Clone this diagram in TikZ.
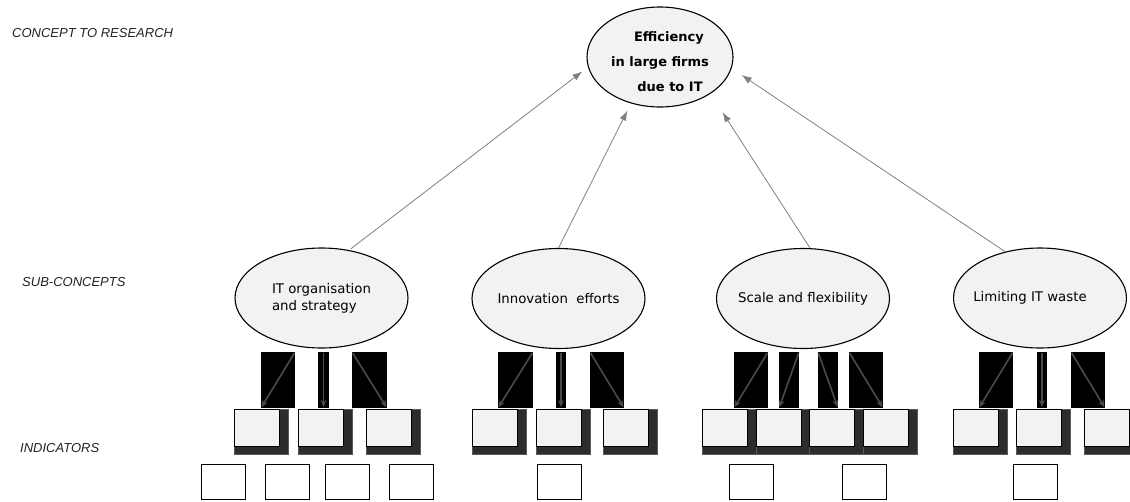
\documentclass[tikz,border=0pt]{standalone}
\usepackage{fontspec}
\setmainfont{DejaVu Sans}
\newfontfamily\labfont{Liberation Sans}
\usetikzlibrary{arrows.meta,shapes.geometric}
\definecolor{ellfill}{HTML}{F2F2F2}
\definecolor{shad}{HTML}{2C2C2C}
\definecolor{shadedge}{HTML}{5A5A5A}
\definecolor{upc}{HTML}{808080}
\definecolor{dnc}{HTML}{4A4A4A}
\definecolor{labc}{HTML}{222222}
\newcommand\indbox[2]{%
  \fill[shad, draw=shadedge, line width=1pt] (#2,409) rectangle ++(54,45);
  \node[indc] (#1) at (#2,409) {};}
\newcommand\botbox[2]{\node[botc] (#1) at (#2,464) {};}
\newcommand\blkbox[3]{\node[blk, minimum width=#3pt] (#1) at (#2,380) {};}
\begin{document}
\begin{tikzpicture}[x=1pt,y=-1pt,
 lvl/.style={font=\labfont\itshape\fontsize{13}{15}\selectfont, text=labc, anchor=west, inner sep=0pt},
 sub/.style={ellipse, draw=black, line width=1.1pt, fill=ellfill, minimum width=173pt, minimum height=100pt, inner xsep=-15pt, inner ysep=0pt, font=\fontsize{13.3}{17}\selectfont},
 topc/.style={ellipse, draw=black, line width=1.1pt, fill=ellfill, minimum width=146pt, minimum height=100pt, inner sep=-5pt, align=center, font=\bfseries\fontsize{13}{25}\selectfont},
 up/.style={draw=upc, line width=0.8pt, -{Latex[length=10pt,width=7pt]}},
 blk/.style={fill=black, draw=none, inner sep=0pt, outer sep=0pt, minimum height=56pt},
 dn/.style={draw=dnc, line width=1.6pt, -{Stealth[length=7pt,width=6pt]}, shorten <=1pt, shorten >=1pt},
 indc/.style={draw=black, line width=1pt, fill=ellfill, minimum width=45pt, minimum height=37pt, inner sep=0pt, anchor=north west},
 botc/.style={draw=black, line width=1.1pt, fill=white, minimum width=44pt, minimum height=35pt, inner sep=0pt, anchor=north west}
]
\useasboundingbox (0,0) rectangle (1130,501);
\clip (0,0) rectangle (1130,501);

% level labels
\node[lvl] (l1) at (12,33.5) {CONCEPT TO RESEARCH};
\node[lvl] (l2) at (22,282) {SUB-CONCEPTS};
\node[lvl] (l3) at (20,448) {INDICATORS};

% top concept
\node[topc] (top) at (660,57) {\rule{0pt}{20pt}\hspace*{18pt}Efficiency\\in large firms\\\hspace*{20pt}due to IT};

% sub-concepts
\node[sub, align=left] (s1) at (321.5,298) {IT organisation\\and strategy};
\node[sub] (s2) at (558.5,298.5) {Innovation\ \ efforts};
\node[sub] (s3) at (803,298.5) {Scale and flexibility};
\node[sub] (s4) at (1040,298) {Limiting IT waste\hspace*{20pt}};

% arrows to top
\draw[up, shorten <=2pt, shorten >=7pt] (s1.60) -- (top.188);
\draw[up, shorten >=8pt] (s2.north) -- (top.238);
\draw[up, shorten >=22pt] (s3.82) -- (top.324);
\draw[up, shorten >=12pt] (s4.127) -- (top.351);

% black arrow boxes
\blkbox{a1}{278}{34}   \blkbox{b1}{323.5}{11} \blkbox{c1}{369.5}{35}
\blkbox{a2}{515.5}{35} \blkbox{b2}{561}{10}   \blkbox{c2}{607}{34}
\blkbox{a3}{751}{34}   \blkbox{b3}{789}{20}   \blkbox{c3}{828}{20} \blkbox{d3}{866}{34}
\blkbox{a4}{996}{34}   \blkbox{b4}{1042}{10}  \blkbox{c4}{1088}{34}

\draw[dn] (a1.north east) -- (a1.south west);
\draw[dn] (b1.north) -- (b1.south);
\draw[dn] (c1.north west) -- (c1.south east);
\draw[dn] (a2.north east) -- (a2.south west);
\draw[dn] (b2.north) -- (b2.south);
\draw[dn] (c2.north west) -- (c2.south east);
\draw[dn] (a3.north east) -- (a3.south west);
\draw[dn] (b3.north east) -- (b3.south west);
\draw[dn] (c3.north west) -- (c3.south east);
\draw[dn] (d3.north west) -- (d3.south east);
\draw[dn] (a4.north east) -- (a4.south west);
\draw[dn] (b4.north) -- (b4.south);
\draw[dn] (c4.north west) -- (c4.south east);

% indicator boxes
\indbox{i11}{234} \indbox{i12}{298} \indbox{i13}{366}
\indbox{i21}{472} \indbox{i22}{536} \indbox{i23}{603}
\indbox{i31}{702} \indbox{i32}{756} \indbox{i33}{809} \indbox{i34}{863}
\indbox{i41}{953} \indbox{i42}{1016} \indbox{i43}{1084}

% bottom boxes
\botbox{j1}{201} \botbox{j2}{265} \botbox{j3}{325} \botbox{j4}{389}
\botbox{j5}{537}
\botbox{j6}{729} \botbox{j7}{842}
\botbox{j8}{1013}
\end{tikzpicture}
\end{document}
